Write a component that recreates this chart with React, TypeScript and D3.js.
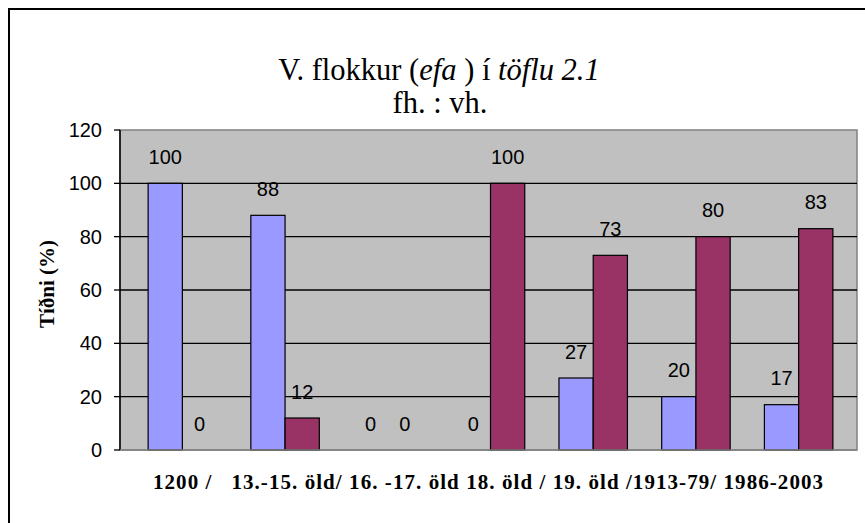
import React from "react";
import * as d3 from "d3";

// Period categories along the x axis
const categories = ["1200", "13.-15. öld", "16.-17. öld", "18. öld", "19. öld", "1913-79", "1986-2003"];
// Share of fh. (first series) and vh. (second series), in percent
const fhValues = [100, 88, 0, 0, 27, 20, 17];
const vhValues = [0, 12, 0, 100, 73, 80, 83];
// Y axis ticks
const yTicks = [0, 20, 40, 60, 80, 100, 120];
// Caption under the category axis
const axisCaption = "1200 /   13.-15. öld/ 16. -17. öld 18. öld / 19. öld /1913-79/ 1986-2003";

const W = 865;
const H = 523;

export default function App() {
  const plot = { left: 120, right: 857, top: 130, bottom: 450 };
  const y = d3.scaleLinear().domain([0, 120]).range([plot.bottom, plot.top]);
  const x = d3.scaleBand<string>().domain(categories).range([131, 850]).padding(0);
  const bw = x.bandwidth() / 3;
  const series = [
    { name: "fh.", values: fhValues, color: "#9999FF", offset: -1 },
    { name: "vh.", values: vhValues, color: "#993366", offset: 0 },
  ];

  return (
    <svg
      width={W}
      height={H}
      style={{ position: "absolute", left: 0, top: 0, display: "block", background: "#fff" }}
    >
      {/* chart frame */}
      <rect x={9} y={9} width={W + 20} height={H + 20} fill="none" stroke="#000" strokeWidth={2} />

      {/* title */}
      <text
        x={439}
        y={80}
        textAnchor="middle"
        fontFamily="'Liberation Serif', 'Times New Roman', serif"
        fontSize={30.5}
        fill="#000"
      >
        <tspan>V. flokkur (</tspan>
        <tspan fontStyle="italic">efa</tspan>
        <tspan> ) í </tspan>
        <tspan fontStyle="italic">töflu 2.1</tspan>
      </text>
      <text
        x={440}
        y={113}
        textAnchor="middle"
        fontFamily="'Liberation Serif', 'Times New Roman', serif"
        fontSize={30.5}
        fill="#000"
      >
        fh. : vh.
      </text>

      {/* plot area */}
      <rect
        x={plot.left}
        y={plot.top}
        width={plot.right - plot.left}
        height={plot.bottom - plot.top}
        fill="#C0C0C0"
        stroke="#808080"
        strokeWidth={1.5}
      />
      {yTicks
        .filter((t) => t > 0 && t < 120)
        .map((t) => (
          <line key={"g" + t} x1={plot.left} x2={plot.right} y1={y(t)} y2={y(t)} stroke="#000" strokeWidth={1.3} />
        ))}

      {/* bars */}
      {series.map((s) =>
        categories.map((c, i) => {
          const cx = (x(c) as number) + x.bandwidth() / 2;
          const bx = cx + s.offset * bw;
          const v = s.values[i];
          return (
            <g key={s.name + c}>
              {v > 0 && (
                <rect
                  x={bx}
                  y={y(v)}
                  width={bw}
                  height={y(0) - y(v)}
                  fill={s.color}
                  stroke="#000"
                  strokeWidth={1.2}
                />
              )}
              <text
                x={bx + bw / 2}
                y={y(v) - 19.5}
                textAnchor="middle"
                fontFamily="'Liberation Sans', Arial, sans-serif"
                fontSize={20}
                fill="#000"
              >
                {v}
              </text>
            </g>
          );
        })
      )}

      {/* y axis */}
      <line x1={plot.left} x2={plot.left} y1={plot.top} y2={plot.bottom} stroke="#000" strokeWidth={1.5} />
      <line x1={plot.left} x2={plot.right} y1={plot.bottom} y2={plot.bottom} stroke="#808080" strokeWidth={1.5} />
      {yTicks.map((t) => (
        <g key={"t" + t}>
          <line x1={plot.left - 6} x2={plot.left} y1={y(t)} y2={y(t)} stroke="#000" strokeWidth={1.3} />
          <text
            x={102}
            y={y(t) + 7}
            textAnchor="end"
            fontFamily="'Liberation Sans', Arial, sans-serif"
            fontSize={20}
            fill="#000"
          >
            {t}
          </text>
        </g>
      ))}
      <text
        transform={`translate(54, 284) rotate(-90)`}
        textAnchor="middle"
        fontFamily="'Liberation Serif', 'Times New Roman', serif"
        fontWeight="bold"
        fontSize={21}
        fill="#000"
      >
        Tíðni (%)
      </text>

      {/* category caption */}
      <text
        x={153}
        y={489}
        fontFamily="'Liberation Serif', 'Times New Roman', serif"
        fontWeight="bold"
        fontSize={21}
        fill="#000"
        textLength={670}
        lengthAdjust="spacing"
        style={{ whiteSpace: "pre" }}
      >
        {axisCaption}
      </text>
    </svg>
  );
}
